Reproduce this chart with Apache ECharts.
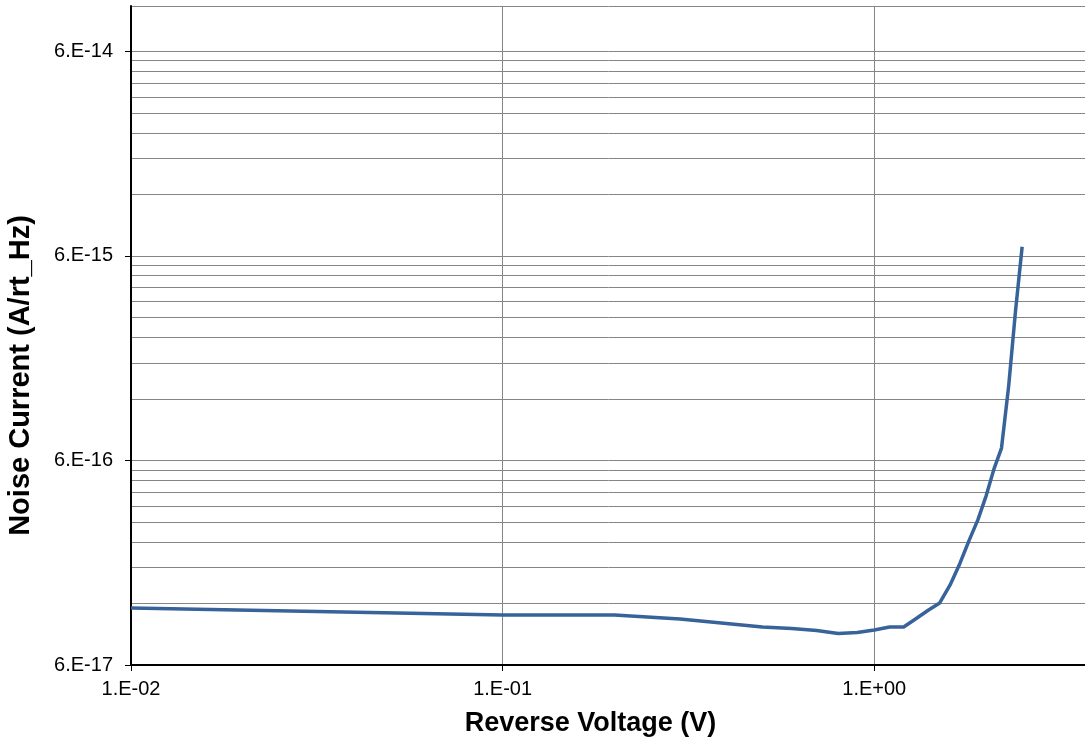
<!DOCTYPE html>
<html>
<head>
<meta charset="utf-8">
<style>
  html, body { margin: 0; padding: 0; background: #fff; }
  #chart { width: 1085px; height: 742px; }
</style>
<script src="https://cdn.jsdelivr.net/npm/echarts@6/dist/echarts.min.js"></script>
</head>
<body>
<div id="chart"></div>
<script>
// Noise current vs reverse voltage (log-log)

const voltage = [0.01, 0.1, 0.2, 0.3, 0.4, 0.5, 0.6, 0.7, 0.8, 0.9, 1.0, 1.1, 1.2,
  1.3, 1.4, 1.5, 1.6, 1.7, 1.8, 1.9, 2.0, 2.1, 2.2, 2.3, 2.4, 2.5];
const noise = [1.14e-16, 1.054e-16, 1.054e-16, 1.008e-16, 9.58e-17, 9.21e-17, 9.05e-17,
  8.85e-17, 8.56e-17, 8.65e-17, 8.90e-17, 9.21e-17, 9.21e-17, 1.015e-16, 1.115e-16,
  1.207e-16, 1.477e-16, 1.883e-16, 2.439e-16, 3.073e-16, 4.028e-16, 5.458e-16,
  6.9e-16, 1.39e-15, 3.24e-15, 6.65e-15];

const xTicks = [0.01, 0.1, 1];
const yMajor = [6e-17, 6e-16, 6e-15, 6e-14];
// 2..9 x each major, plus the top edge
const yGrid = [
  6e-17, 1.2e-16, 1.8e-16, 2.4e-16, 3.0e-16, 3.6e-16, 4.2e-16, 4.8e-16, 5.4e-16,
  6e-16, 1.2e-15, 1.8e-15, 2.4e-15, 3.0e-15, 3.6e-15, 4.2e-15, 4.8e-15, 5.4e-15,
  6e-15, 1.2e-14, 1.8e-14, 2.4e-14, 3.0e-14, 3.6e-14, 4.2e-14, 4.8e-14, 5.4e-14,
  6e-14, 1e-13,
];

const FONT = '"Liberation Sans", Arial, sans-serif';

// Excel style "6.E-14"
function fmtExp(v) {
  const [m, e] = v.toExponential(0).split('e');
  const n = parseInt(e, 10);
  return m + '.E' + (n < 0 ? '-' : '+') + String(Math.abs(n)).padStart(2, '0');
}

const chart = echarts.init(document.getElementById('chart'));

chart.setOption({
  animation: false,
  backgroundColor: '#fff',
  grid: { left: 131, right: -13, top: 6, bottom: 77, containLabel: false, outerBoundsMode: 'none' },
  xAxis: {
    type: 'log',
    logBase: 10,
    min: 0.01,
    max: 4,
    name: 'Reverse Voltage (V)',
    nameLocation: 'middle',
    nameGap: 45,
    nameTextStyle: { fontFamily: FONT, fontSize: 27, fontWeight: 'bold', color: '#000', padding: [0, 48, 0, 0] },
    axisLine: { lineStyle: { color: '#000', width: 2 } },
    axisTick: { show: true, inside: false, length: 6, customValues: xTicks, lineStyle: { color: '#000', width: 1 } },
    axisLabel: { customValues: xTicks, formatter: fmtExp, fontFamily: FONT, fontSize: 20, color: '#000', margin: 14 },
    splitLine: { show: true, lineStyle: { color: '#858585', width: 1 } },
    minorSplitLine: { show: false },
  },
  yAxis: [
    {
      // grid lines only
      type: 'log',
      logBase: 10,
      min: 6e-17,
      max: 1e-13,
      position: 'left',
      axisLine: { show: false },
      axisTick: { show: false, customValues: yGrid },
      axisLabel: { show: false, customValues: yGrid },
      splitLine: { show: true, lineStyle: { color: '#858585', width: 1 } },
    },
    {
      // axis, ticks and labels
      type: 'log',
      logBase: 10,
      min: 6e-17,
      max: 1e-13,
      position: 'left',
      name: 'Noise Current (A/rt_Hz)',
      nameLocation: 'middle',
      nameGap: 96,
      nameTextStyle: { fontFamily: FONT, fontSize: 29, fontWeight: 'bold', color: '#000', padding: [0, 80, 0, 0] },
      axisLine: { show: true, lineStyle: { color: '#000', width: 2 } },
      axisTick: { show: true, inside: false, length: 6, customValues: yMajor, lineStyle: { color: '#000', width: 1 } },
      axisLabel: { customValues: yMajor, formatter: fmtExp, fontFamily: FONT, fontSize: 20, color: '#000', margin: 18 },
      splitLine: { show: false },
    },
  ],
  series: [
    {
      name: 'Noise Current',
      type: 'line',
      yAxisIndex: 0,
      data: voltage.map((v, i) => [v, noise[i]]),
      symbol: 'none',
      smooth: false,
      lineStyle: { color: '#37629a', width: 3.5 },
      itemStyle: { color: '#37629a' },
    },
  ],
});
</script>
</body>
</html>
